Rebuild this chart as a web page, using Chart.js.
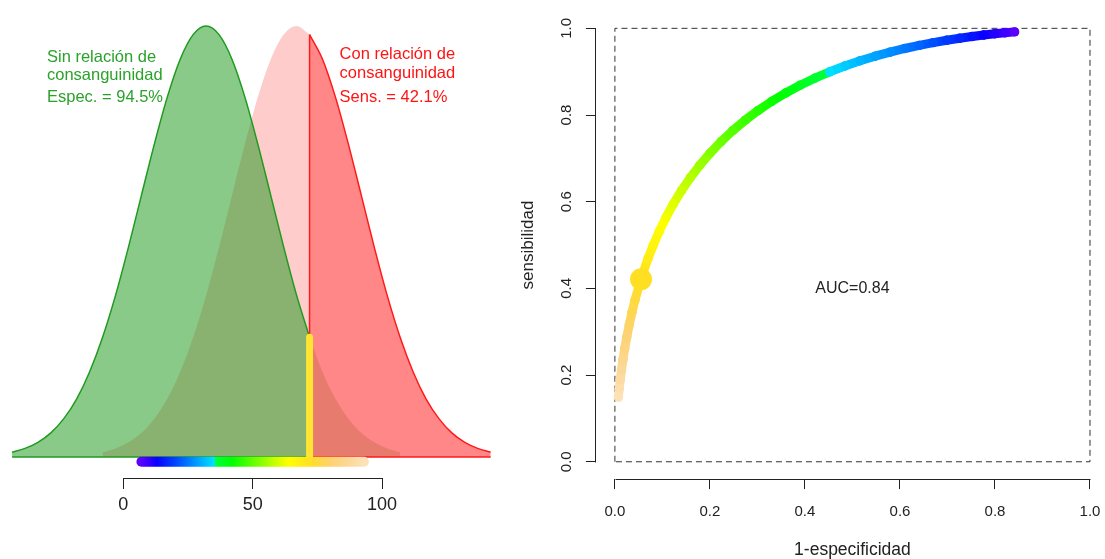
<!DOCTYPE html>
<html>
<head>
<meta charset="utf-8">
<script src="https://cdn.jsdelivr.net/npm/chart.js@4.4.1/dist/chart.umd.min.js"></script>
<style>
html,body{margin:0;padding:0;background:#fff;overflow:hidden;width:1105px;height:559px;}
#left{position:absolute;left:0;top:0;}
#right{position:absolute;left:500px;top:0;}
</style>
</head>
<body>
<canvas id="left" width="500" height="559"></canvas>
<canvas id="right" width="620" height="559"></canvas>
<script>
// ================= DATA =================
// Left panel: relative densities of the two groups (peak = 1)
const densityX = [-43,-38,-33,-28,-23,-18,-13,-8,-3,2,7,12,17,22,27,32,37,42,47,52,57,62,67,72,77,82,87,92,97,102,107,112,117,122,127,132,137,142];
const greenDensity = [0.011,0.020,0.034,0.056,0.089,0.135,0.198,0.278,0.375,0.487,0.607,0.726,0.835,0.923,0.980,1.000,0.980,0.923,0.835,0.726,0.607,0.487,0.375,0.278,0.198,0.135,0.089,0.056,0.034,0.020,0.011,null,null,null,null,null,null,null];
const redDensity = [null,null,null,null,null,null,null,0.011,0.020,0.034,0.056,0.089,0.135,0.198,0.278,0.375,0.487,0.607,0.726,0.835,0.923,0.980,1.000,0.980,0.923,0.835,0.726,0.607,0.487,0.375,0.278,0.198,0.135,0.089,0.056,0.034,0.020,0.011];
const cutoff = 72;
const specificity = 94.5;
const sensitivity = 42.1;
const leftTicks = [0, 50, 100];
const greenLabel = ['Sin relación de', 'consanguinidad'];
const redLabel = ['Con relación de', 'consanguinidad'];

// Right panel: ROC curve (threshold, 1-specificity, sensitivity)
const rocThreshold = [7,9,11,13,15,17,19,21,23,25,27,29,31,33,35,37,39,41,43,45,47,49,51,53,55,57,59,61,63,65,67,69,71,73,75,77,79,81,83,85,87,89,91,93];
const rocFpr = [0.8413,0.8212,0.7995,0.7764,0.7517,0.7257,0.6985,0.6700,0.6406,0.6103,0.5793,0.5478,0.5160,0.4840,0.4522,0.4207,0.3897,0.3594,0.3300,0.3015,0.2743,0.2483,0.2236,0.2005,0.1788,0.1587,0.1401,0.1230,0.1075,0.0934,0.0808,0.0694,0.0594,0.0505,0.0427,0.0359,0.0301,0.0250,0.0207,0.0170,0.0139,0.0113,0.0091,0.0073];
const rocTpr = [0.9918,0.9898,0.9875,0.9846,0.9812,0.9772,0.9726,0.9671,0.9608,0.9535,0.9452,0.9357,0.9251,0.9131,0.8997,0.8849,0.8686,0.8508,0.8315,0.8106,0.7881,0.7642,0.7389,0.7123,0.6844,0.6554,0.6255,0.5948,0.5636,0.5319,0.5000,0.4681,0.4364,0.4052,0.3745,0.3446,0.3156,0.2877,0.2611,0.2358,0.2119,0.1894,0.1685,0.1492];
const cutoffFpr = 0.055;
const cutoffTpr = 0.421;
const aucValue = 0.84;
const rocTicks = [0, 0.2, 0.4, 0.6, 0.8, 1.0];

// ================= STYLE =================
const FONT = '"Liberation Sans", Arial, Helvetica, sans-serif';
Chart.defaults.font.family = FONT;
const paletteStops = [
  [7, '#5a00ff'], [13, '#0a00ff'], [20, '#0044ff'], [28, '#0098ff'], [35.5, '#00e4ff'],
  [35.6, '#00ff3c'], [42, '#00ff00'], [50, '#60ff00'], [58, '#c0ff00'], [64, '#ffff00'],
  [70, '#ffe81a'], [74, '#ffdc34'], [80, '#fdd270'], [87, '#fcd898'], [93, '#fde2b8']
];
function hexRgb(h){return [parseInt(h.slice(1,3),16),parseInt(h.slice(3,5),16),parseInt(h.slice(5,7),16)];}
function colorAt(t){
  if (t <= paletteStops[0][0]) return paletteStops[0][1];
  for (let i = 1; i < paletteStops.length; i++) {
    const [t1, c1] = paletteStops[i];
    if (t <= t1) {
      const [t0, c0] = paletteStops[i-1];
      const f = (t - t0) / (t1 - t0);
      const a = hexRgb(c0), b = hexRgb(c1);
      return 'rgb(' + a.map((v,k)=>Math.round(v + (b[k]-v)*f)).join(',') + ')';
    }
  }
  return paletteStops[paletteStops.length-1][1];
}
const barLevel = -0.011;

// ================= LEFT CHART =================
const pts = (arr, test) => densityX.map((x,i)=>({x, y: arr[i]})).filter(p => p.y !== null && test(p.x));
const gAt = greenDensity[densityX.indexOf(cutoff)];
const rAt = redDensity[densityX.indexOf(cutoff)];
const gX = densityX.filter((x,i)=>greenDensity[i]!==null);
const rX = densityX.filter((x,i)=>redDensity[i]!==null);
const tMin = rocThreshold[0], tMax = rocThreshold[rocThreshold.length-1];

const leftPlugin = {
  id: 'leftDeco',
  afterDraw(chart){
    const {ctx, scales:{x, y}} = chart;
    ctx.save();
    ctx.strokeStyle = '#222'; ctx.lineWidth = 1;
    const yy = Math.round(x.top) + 0.5;
    ctx.beginPath();
    ctx.moveTo(Math.round(x.getPixelForValue(leftTicks[0]))+0.5, yy);
    ctx.lineTo(Math.round(x.getPixelForValue(leftTicks[leftTicks.length-1]))+0.5, yy);
    ctx.stroke();
    ctx.font = '16.5px ' + FONT;
    ctx.textAlign = 'left'; ctx.textBaseline = 'alphabetic';
    const gl = greenLabel.concat(['Espec. = ' + specificity.toFixed(1) + '%']);
    const rl = redLabel.concat(['Sens. = ' + sensitivity.toFixed(1) + '%']);
    const gy = [0.917, 0.875, 0.824], ry = [0.923, 0.879, 0.824];
    ctx.fillStyle = '#2aa22a';
    gl.forEach((t,i)=>ctx.fillText(t, x.getPixelForValue(-29.5), y.getPixelForValue(gy[i])));
    ctx.fillStyle = '#ff1414';
    rl.forEach((t,i)=>ctx.fillText(t, x.getPixelForValue(83.6), y.getPixelForValue(ry[i])));
    ctx.restore();
  }
};

new Chart(document.getElementById('left'), {
  type: 'line',
  data: {
    datasets: [
      { // color bar of thresholds
        data: [{x:tMin, y:barLevel}, {x:tMax, y:barLevel}],
        borderWidth: 10, borderCapStyle: 'round', pointRadius: 0, fill: false, order: 0,
        borderColor: (c) => {
          const ch = c.chart;
          if (!ch.chartArea) return paletteStops[0][1];
          const xs = ch.scales.x;
          const p0 = xs.getPixelForValue(tMin), p1 = xs.getPixelForValue(tMax);
          const g = ch.ctx.createLinearGradient(p0, 0, p1, 0);
          paletteStops.forEach(([t, col]) => g.addColorStop(Math.min(1, Math.max(0, (t - tMin)/(tMax - tMin))), col));
          return g;
        }
      },
      { // cutoff yellow line
        data: [{x:cutoff, y:barLevel}, {x:cutoff, y:gAt}],
        borderColor: '#ffe433', borderWidth: 7, borderCapStyle: 'round', pointRadius: 0, fill: false, order: 1
      },
      { // red vertical at cutoff
        data: [{x:cutoff, y:0}, {x:cutoff, y:rAt}],
        borderColor: '#ff1a1a', borderWidth: 1.5, pointRadius: 0, fill: false, order: 2
      },
      { // green baseline
        data: [{x:gX[0], y:0}, {x:cutoff, y:0}],
        borderColor: '#1f9a1f', borderWidth: 1.5, pointRadius: 0, fill: false, order: 2
      },
      { // red baseline
        data: [{x:cutoff, y:0}, {x:rX[rX.length-1], y:0}],
        borderColor: '#ff1a1a', borderWidth: 1.5, pointRadius: 0, fill: false, order: 2
      },
      { // red strong (sensitivity part)
        data: pts(redDensity, x => x >= cutoff),
        borderColor: '#ff1a1a', borderWidth: 1.5, backgroundColor: 'rgba(255,0,0,0.47)',
        fill: 'origin', pointRadius: 0, cubicInterpolationMode: 'monotone', order: 3
      },
      { // green light (false positive part)
        data: pts(greenDensity, x => x >= cutoff),
        borderWidth: 0, borderColor: 'rgba(0,0,0,0)', backgroundColor: 'rgba(20,150,20,0.2)',
        fill: 'origin', pointRadius: 0, cubicInterpolationMode: 'monotone', order: 4
      },
      { // green strong (specificity part)
        data: pts(greenDensity, x => x <= cutoff),
        borderColor: '#1f9a1f', borderWidth: 1.5, backgroundColor: 'rgba(20,150,20,0.5)',
        fill: 'origin', pointRadius: 0, cubicInterpolationMode: 'monotone', order: 5
      },
      { // red light (false negative part)
        data: pts(redDensity, x => x <= cutoff),
        borderWidth: 0, borderColor: 'rgba(0,0,0,0)', backgroundColor: 'rgba(255,0,0,0.2)',
        fill: 'origin', pointRadius: 0, cubicInterpolationMode: 'monotone', order: 6
      }
    ]
  },
  options: {
    responsive: false, animation: false,
    layout: { padding: 0 },
    plugins: { legend: {display:false}, tooltip: {enabled:false} },
    scales: {
      x: {
        type: 'linear', min: -47.66, max: 145.61,
        afterBuildTicks: s => { s.ticks = leftTicks.map(v => ({value: v})); },
        afterFit: s => { s.height = 81; },
        border: { display: false },
        grid: { drawOnChartArea: false, drawTicks: true, tickLength: 11, color: '#222', lineWidth: 1 },
        ticks: { font: { size: 18 }, color: '#222', padding: 5, maxRotation: 0 }
      },
      y: { type: 'linear', display: false, min: -0.0487, max: 1.0603 }
    }
  },
  plugins: [leftPlugin]
});

// ================= RIGHT CHART =================
const rightPlugin = {
  id: 'rightDeco',
  afterDraw(chart){
    const {ctx, scales:{x, y}} = chart;
    ctx.save();
    ctx.strokeStyle = '#222'; ctx.lineWidth = 1;
    const yy = Math.round(x.top) + 0.5;
    ctx.beginPath();
    ctx.moveTo(Math.round(x.getPixelForValue(rocTicks[0]))+0.5, yy);
    ctx.lineTo(Math.round(x.getPixelForValue(rocTicks[rocTicks.length-1]))+0.5, yy);
    ctx.stroke();
    const xx = Math.round(y.right) - 0.5;
    ctx.beginPath();
    ctx.moveTo(xx, Math.round(y.getPixelForValue(rocTicks[0]))+0.5);
    ctx.lineTo(xx, Math.round(y.getPixelForValue(rocTicks[rocTicks.length-1]))+0.5);
    ctx.stroke();
    ctx.fillStyle = '#222';
    ctx.font = '15px ' + FONT;
    ctx.textAlign = 'center'; ctx.textBaseline = 'middle';
    rocTicks.forEach(v => {
      ctx.save();
      ctx.translate(66.7, y.getPixelForValue(v));
      ctx.rotate(-Math.PI/2);
      ctx.fillText(v.toFixed(1), 0, 0);
      ctx.restore();
    });
    ctx.font = '16px ' + FONT;
    ctx.fillText('AUC=' + aucValue.toFixed(2), x.getPixelForValue(0.5), y.getPixelForValue(0.4));
    ctx.restore();
  }
};

new Chart(document.getElementById('right'), {
  type: 'line',
  data: {
    datasets: [
      { // cutoff point
        data: [{x: cutoffFpr, y: cutoffTpr}],
        showLine: false, pointRadius: 11, pointBackgroundColor: '#ffdf22', pointBorderWidth: 0, order: 0
      },
      { // ROC curve
        data: rocFpr.map((v,i)=>({x: v, y: rocTpr[i]})),
        borderWidth: 9, borderCapStyle: 'round', borderJoinStyle: 'round', tension: 0,
        borderColor: colorAt(50),
        segment: { borderColor: c => colorAt((rocThreshold[c.p0DataIndex] + rocThreshold[c.p1DataIndex]) / 2) },
        pointRadius: 4.7, pointBorderWidth: 0,
        pointBackgroundColor: rocThreshold.map(colorAt), fill: false, order: 1
      },
      { // dashed unit square
        data: [{x:0,y:0},{x:0,y:1},{x:1,y:1},{x:1,y:0},{x:0,y:0}],
        borderColor: '#333', borderWidth: 1, borderDash: [6, 4], pointRadius: 0, fill: false, tension: 0, order: 2
      }
    ]
  },
  options: {
    responsive: false, animation: false,
    layout: { padding: { top: 8.9, right: 7.4, left: 0, bottom: 0 } },
    plugins: { legend: {display:false}, tooltip: {enabled:false} },
    scales: {
      x: {
        type: 'linear', min: -0.04, max: 1.04,
        afterBuildTicks: s => { s.ticks = rocTicks.map(v => ({value: v})); },
        afterFit: s => { s.height = 79.9; },
        border: { display: false },
        grid: { drawOnChartArea: false, drawTicks: true, tickLength: 10, color: '#222', lineWidth: 1 },
        ticks: { font: { size: 15 }, color: '#222', padding: 14, maxRotation: 0, callback: v => Number(v).toFixed(1) },
        title: { display: true, text: '1-especificidad', color: '#222', font: { size: 17.5, lineHeight: 1 }, padding: { top: 0, bottom: 0 } }
      },
      y: {
        type: 'linear', min: -0.04, max: 1.04,
        afterBuildTicks: s => { s.ticks = rocTicks.map(v => ({value: v})); },
        afterFit: s => { s.width = 95.9; },
        border: { display: false },
        grid: { drawOnChartArea: false, drawTicks: true, tickLength: 10, color: '#222', lineWidth: 1 },
        ticks: { display: false },
        title: { display: true, text: 'sensibilidad', color: '#222', font: { size: 17, lineHeight: 1 }, padding: { top: 19.5, bottom: 0 } }
      }
    }
  },
  plugins: [rightPlugin]
});
</script>
</body>
</html>
